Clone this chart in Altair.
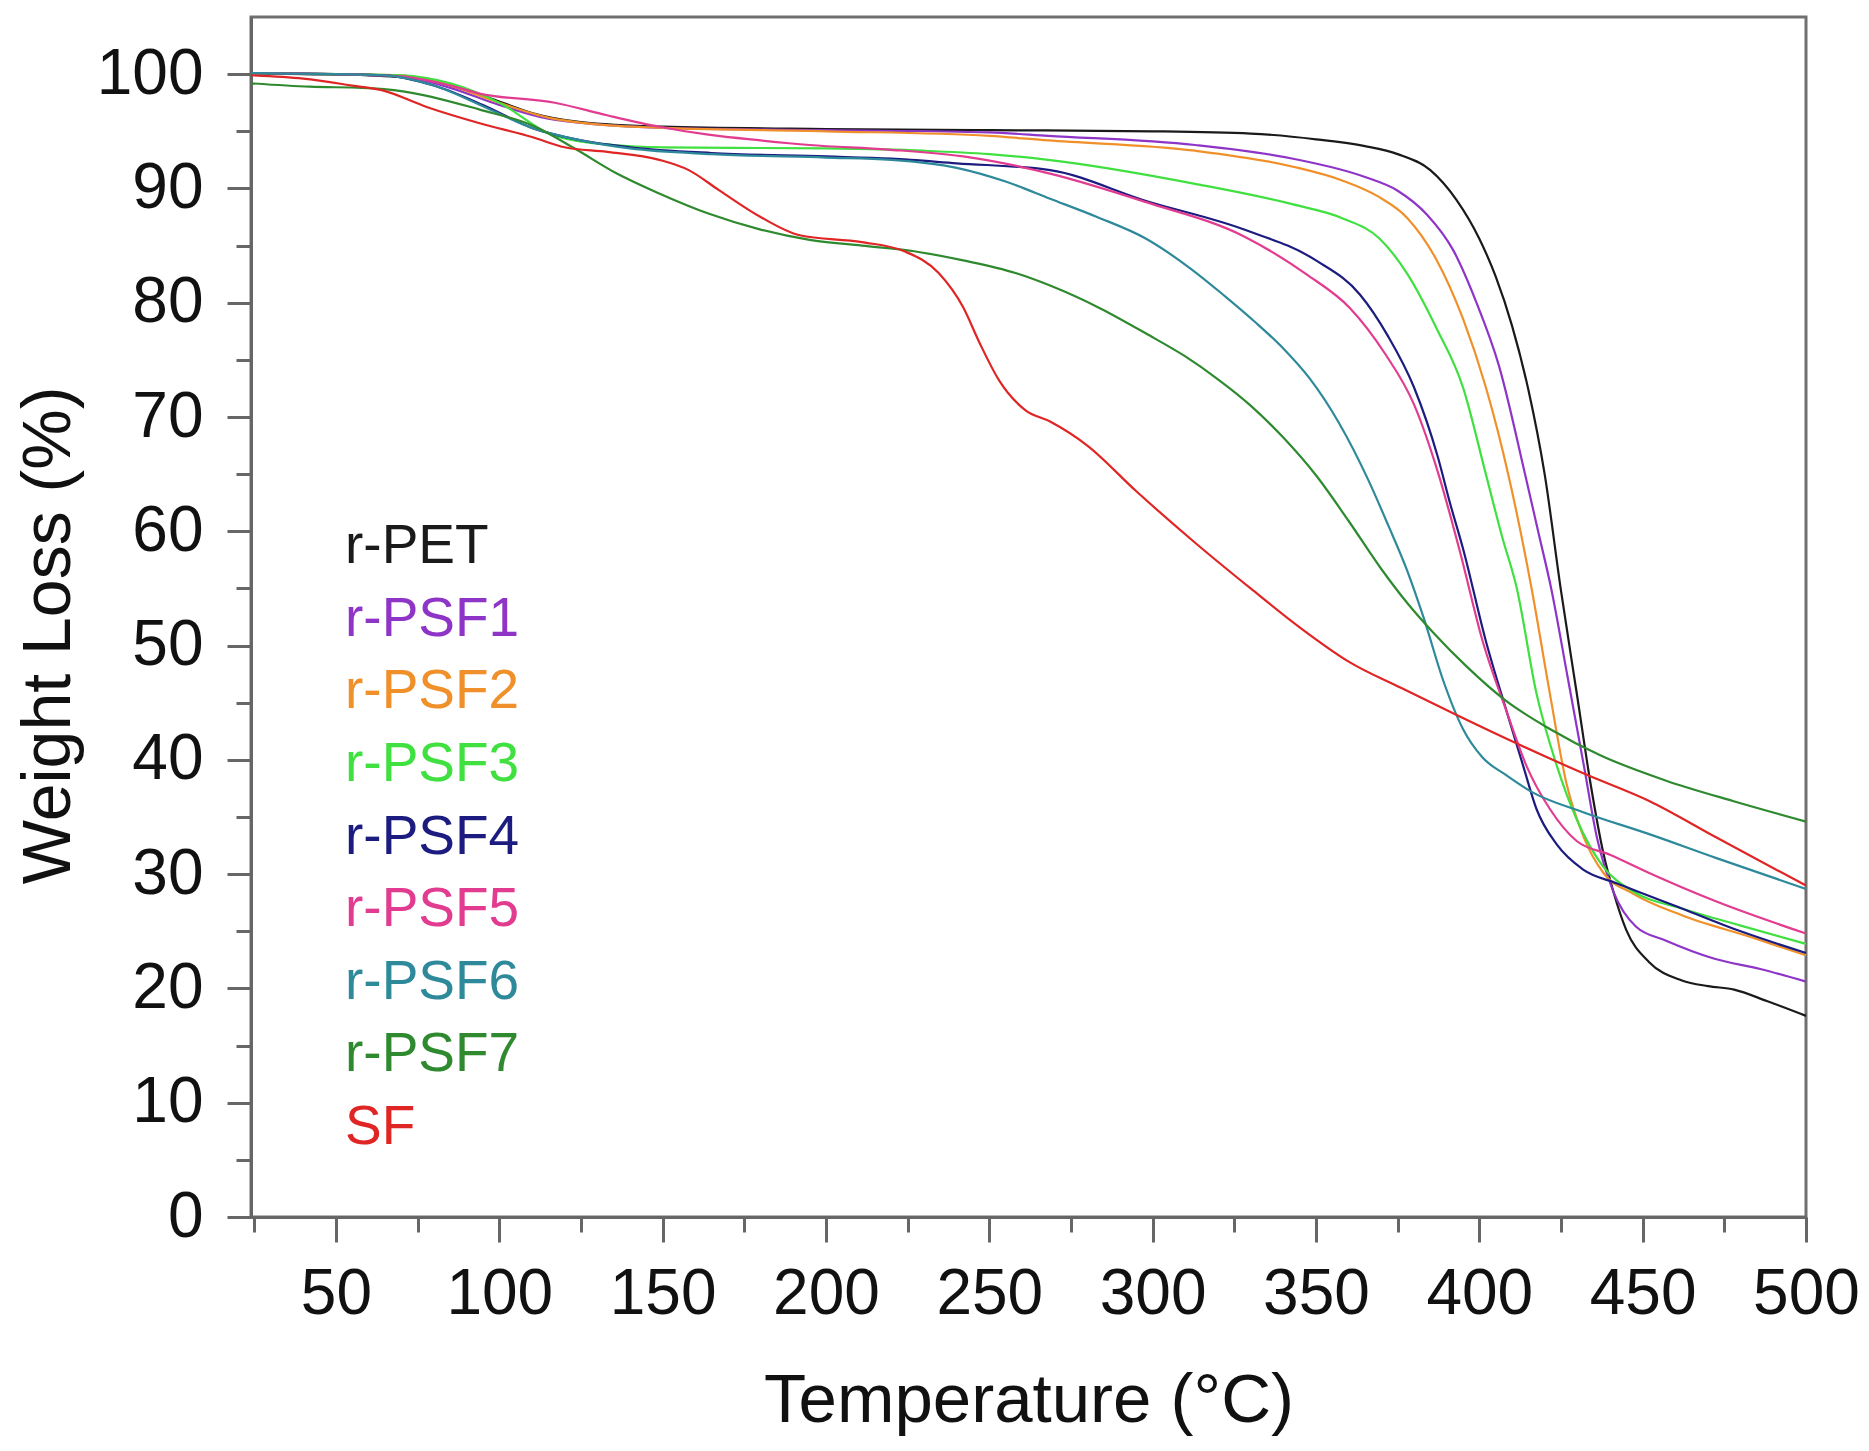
import altair as alt
import pandas as pd

SERIES = ["r-PET", "r-PSF1", "r-PSF2", "r-PSF3", "r-PSF4", "r-PSF5", "r-PSF6", "r-PSF7", "SF"]
COLORS = ["#1a1a1a", "#8E35C8", "#F0902A", "#3FE03F", "#1C1C80", "#E23C90", "#2E8A9A", "#2F8A2F", "#E02525"]

X_TICKS = [50, 100, 150, 200, 250, 300, 350, 400, 450, 500]
X_MINOR = [25, 75, 125, 175, 225, 275, 325, 375, 425, 475]
Y_TICKS = [0, 10, 20, 30, 40, 50, 60, 70, 80, 90, 100]
Y_MINOR = [5, 15, 25, 35, 45, 55, 65, 75, 85, 95]

PET_T = [24, 40, 60, 75, 90, 100, 110, 125, 150, 200, 250, 300, 330, 350, 365, 375, 385, 393, 400, 405,
         410, 415, 420, 425, 430, 434, 438, 441, 445, 452, 462, 470, 478, 488, 500]
PET_W = [100.1, 100.0, 99.9, 99.6, 98.6, 97.6, 96.6, 95.8, 95.4, 95.2, 95.1, 95.0, 94.8, 94.3, 93.7, 93.0,
         91.6, 89.0, 85.6, 82.3, 78.0, 72.4, 65.0, 54.8, 45.5, 38.0, 31.8, 28.5, 25.1, 22.3, 20.7, 20.2,
         19.9, 18.9, 17.6]

PSF1_T = [24, 50, 70, 85, 100, 115, 130, 150, 200, 250, 268, 313, 343, 365, 375, 384, 392, 399, 406, 414,
          418, 422, 427, 432, 436, 441, 448, 457, 472, 486, 500]
PSF1_W = [100.1, 100.0, 99.8, 98.8, 97.3, 96.1, 95.6, 95.3, 95.1, 94.9, 94.6, 93.8, 92.6, 91.0, 89.8, 87.7,
          84.6, 80.1, 74.5, 65.0, 60.0, 55.0, 47.3, 39.5, 33.2, 28.5, 25.4, 24.2, 22.6, 21.7, 20.6]

PSF2_T = [24, 50, 70, 85, 100, 115, 130, 150, 200, 250, 268, 313, 343, 358, 369, 378, 387, 395, 402, 409,
          416, 421.6, 426.7, 432, 438, 447, 462, 483, 500]
PSF2_W = [100.1, 100.0, 99.9, 99.0, 97.5, 96.2, 95.6, 95.3, 95.0, 94.6, 94.2, 93.3, 91.9, 90.7, 89.3, 87.4,
          83.7, 78.6, 72.6, 64.8, 55.0, 45.8, 37.9, 33.2, 30.1, 28.3, 26.4, 24.5, 22.9]

PSF3_T = [24, 50, 70, 85, 100, 117, 135, 150, 200, 230, 250, 268, 313, 343, 358, 369.5, 378, 387, 395, 402,
          407, 411.4, 417.5, 423.7, 429.8, 437.8, 447, 462, 480, 500]
PSF3_W = [100.1, 100.0, 99.9, 99.2, 97.5, 94.6, 93.8, 93.6, 93.5, 93.3, 93.0, 92.5, 90.4, 88.6, 87.4, 85.6,
          82.5, 77.7, 72.6, 65.0, 59.5, 55.1, 45.8, 39.5, 34.8, 30.7, 28.5, 27.0, 25.5, 23.9]

PSF4_T = [24, 50, 65, 80, 95, 110, 125, 140, 165, 200, 220, 240, 268.6, 298, 328, 350, 363.5, 372, 380,
          387.3, 391, 395, 402, 408.4, 413.4, 417.5, 423.7, 431.8, 442, 462, 480, 500]
PSF4_W = [100.1, 100.0, 99.9, 99.0, 97.3, 95.3, 94.2, 93.6, 93.1, 92.8, 92.6, 92.2, 91.6, 88.9, 86.4, 83.7,
          80.7, 77.1, 72.6, 66.5, 62.5, 58.5, 50.4, 44.2, 39.5, 35.7, 32.6, 30.4, 29.2, 27.0, 25.0, 23.1]

PSF5_T = [24, 50, 70, 85, 94, 117, 133, 149, 164, 180, 195, 219, 242, 268.6, 298, 328, 347, 360.5, 371, 380,
          387.5, 394, 401, 408.4, 414.4, 421.6, 429.8, 440, 452, 472.6, 500]
PSF5_W = [100.1, 100.0, 99.8, 99.0, 98.3, 97.5, 96.4, 95.4, 94.7, 94.2, 93.8, 93.4, 92.8, 91.3, 88.8, 85.8,
          82.5, 79.5, 75.6, 71.1, 65.0, 58.3, 50.4, 44.2, 39.5, 35.7, 32.9, 31.7, 30.1, 27.6, 24.8]

PSF6_T = [24, 50, 65, 80, 95, 110, 125, 140, 165, 200, 220, 240, 255, 268.6, 283, 298, 312, 322, 331, 340,
          348, 357, 366, 372, 378, 383, 389, 395, 401, 408, 416, 432, 452, 472.6, 500]
PSF6_W = [100.1, 100.0, 99.9, 99.0, 97.2, 95.3, 94.2, 93.5, 93.0, 92.7, 92.5, 91.8, 90.6, 89.1, 87.5, 85.6,
          82.9, 80.6, 78.4, 76.0, 73.4, 69.5, 64.5, 60.6, 56.5, 52.4, 46.9, 42.7, 40.2, 38.7, 37.2, 35.4,
          33.5, 31.4, 28.7]

PSF7_T = [24, 42, 58, 70.5, 94, 111, 123.6, 136, 148.6, 164, 180, 195, 211, 227, 242, 258, 268.6, 284, 298,
          310, 320, 330, 340, 350, 360, 370, 378, 386, 396, 408, 421.6, 437, 457, 477.6, 500]
PSF7_W = [99.2, 98.9, 98.8, 98.5, 96.9, 95.4, 93.4, 91.3, 89.6, 87.8, 86.4, 85.5, 85.0, 84.5, 83.7, 82.6,
          81.5, 79.5, 77.3, 75.3, 73.3, 71.0, 68.2, 64.9, 60.9, 56.7, 53.7, 51.1, 48.2, 45.2, 42.7, 40.4,
          38.2, 36.4, 34.6]

SF_T = [24, 40, 55, 64, 78, 94, 110, 120, 133, 149, 158, 167, 180, 192, 211, 224, 234.5, 242, 247, 253, 261,
        268.6, 280, 295, 313, 330, 345, 360, 376, 394, 411, 432, 452, 472.6, 500]
SF_W = [99.9, 99.6, 99.0, 98.6, 97.1, 95.7, 94.5, 93.6, 93.2, 92.5, 91.6, 89.9, 87.5, 85.9, 85.3, 84.5, 82.6,
        79.6, 76.5, 73.2, 70.6, 69.6, 67.5, 63.5, 59.0, 55.0, 51.6, 48.6, 46.3, 43.8, 41.5, 38.8, 36.4,
        33.2, 29.0]

CURVES = [(PET_T, PET_W), (PSF1_T, PSF1_W), (PSF2_T, PSF2_W), (PSF3_T, PSF3_W), (PSF4_T, PSF4_W),
          (PSF5_T, PSF5_W), (PSF6_T, PSF6_W), (PSF7_T, PSF7_W), (SF_T, SF_W)]

rows = []
for name, (ts, ws) in zip(SERIES, CURVES):
    for t, w in zip(ts, ws):
        rows.append({"series": name, "T": t, "W": w})
df = pd.DataFrame(rows)
leg_df = pd.DataFrame({"series": SERIES})

FONT = "Liberation Sans"
AX = "#666666"

x_scale = alt.Scale(domain=[24, 500], nice=False, zero=False)
y_scale = alt.Scale(domain=[0, 105], nice=False, zero=False)
color_scale = alt.Scale(domain=SERIES, range=COLORS)

lines = alt.Chart(df).mark_line(strokeWidth=2.2, interpolate="monotone").encode(
    x=alt.X("T:Q", scale=x_scale, axis=alt.Axis(
        orient="bottom", values=X_TICKS, title="Temperature (°C)", tickSize=25,
        labelBaseline="alphabetic", labelPadding=71, labelFlush=False, labelOverlap=False,
        titleY=204, titleBaseline="alphabetic")),
    y=alt.Y("W:Q", scale=y_scale, axis=alt.Axis(
        orient="left", values=Y_TICKS, title="Weight Loss (%)", tickSize=24, labelPadding=24,
        labelOverlap=False, labelFlush=False, titleX=-182, titleY=618, titleBaseline="alphabetic",
        titleAlign="center", titleFontSize=68)),
    color=alt.Color("series:N", scale=color_scale, legend=None),
)

minor = alt.Chart(df).mark_point(opacity=0, size=1).encode(
    x=alt.X("T:Q", scale=x_scale, axis=alt.Axis(
        orient="bottom", values=X_MINOR, labels=False, domain=False, tickSize=15, title=None)),
    y=alt.Y("W:Q", scale=y_scale, axis=alt.Axis(
        orient="left", values=Y_MINOR, labels=False, domain=False, tickSize=15, title=None)),
)

legend = alt.Chart(leg_df).mark_text(align="left", baseline="alphabetic", fontSize=55, font=FONT).encode(
    x=alt.value(94),
    y=alt.Y("series:N", sort=SERIES, scale=alt.Scale(range=[546, 1127], padding=0), axis=None),
    text="series:N",
    color=alt.Color("series:N", scale=color_scale, legend=None),
)

chart = alt.layer(lines, minor, legend).resolve_scale(
    x="independent", y="independent"
).properties(
    width=1555, height=1200,
    padding={"left": 243, "top": 9, "right": 55, "bottom": 230},
    autosize=alt.AutoSizeParams(type="none"),
    background="white",
).configure_view(
    stroke="#707070", strokeWidth=3
).configure_axis(
    grid=False, domainColor=AX, domainWidth=3, tickColor=AX, tickWidth=3,
    labelFont=FONT, labelFontSize=64, labelColor="#111111",
    titleFont=FONT, titleFontSize=69, titleFontWeight="normal", titleColor="#111111",
)

chart.save("out.html", embed_options={"renderer": "svg", "actions": False})
